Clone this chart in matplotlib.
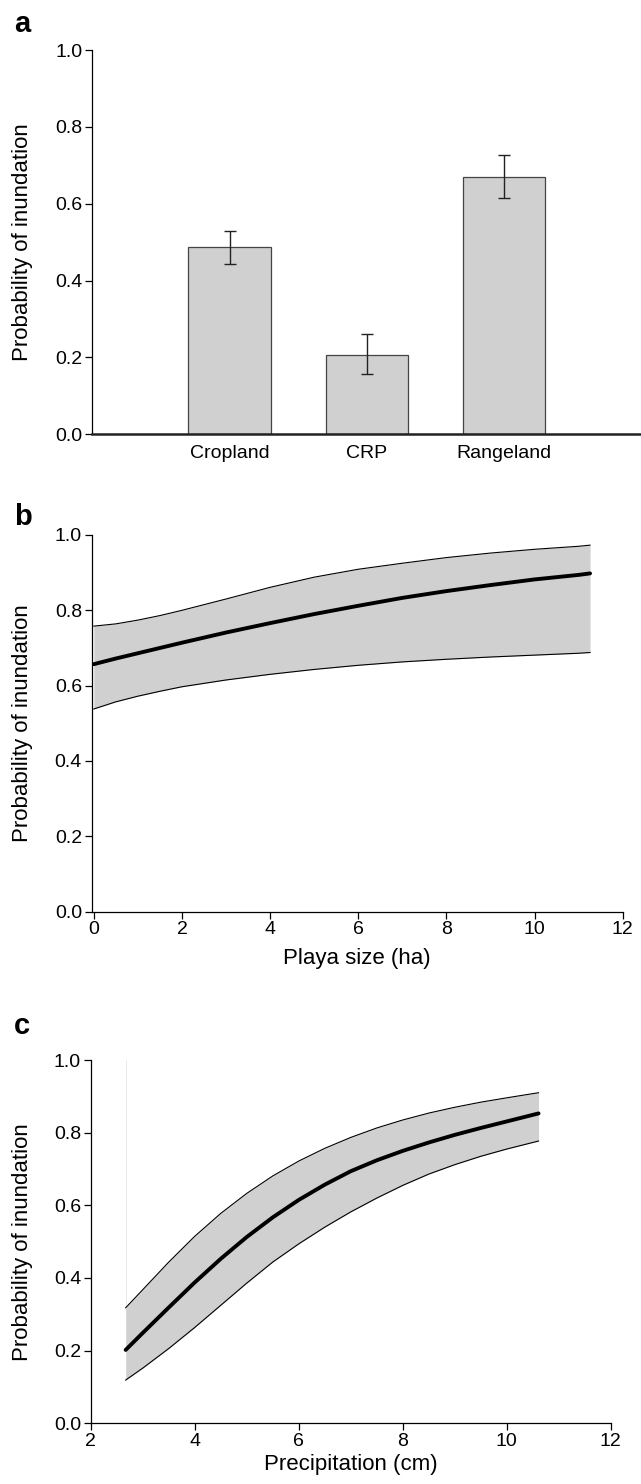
import numpy as np
import matplotlib.pyplot as plt
import matplotlib.transforms as mtransforms

plt.rcParams['font.family'] = ['Liberation Sans', 'DejaVu Sans']

# panel a: probability by land use
land_use = ['Cropland', 'CRP', 'Rangeland']
prob_a = [0.486, 0.207, 0.670]
err_lo_a = [0.442, 0.156, 0.614]
err_hi_a = [0.530, 0.260, 0.726]

# panel b: playa size
size_x = [0, 0.5, 1, 1.5, 2, 3, 4, 5, 6, 7, 8, 9, 10, 11, 11.26]
size_mean = [0.657, 0.672, 0.686, 0.700, 0.714, 0.741, 0.766, 0.790, 0.812, 0.833, 0.851,
             0.867, 0.882, 0.894, 0.898]
size_upper = [0.758, 0.764, 0.774, 0.786, 0.800, 0.830, 0.861, 0.888, 0.909, 0.925, 0.940,
              0.952, 0.962, 0.970, 0.973]
size_lower = [0.538, 0.557, 0.572, 0.585, 0.597, 0.615, 0.630, 0.643, 0.654, 0.663, 0.670,
              0.676, 0.681, 0.686, 0.688]

# panel c: precipitation
precip_x = [2.67, 3.0, 3.5, 4.0, 4.5, 5.0, 5.5, 6.0, 6.5, 7.0, 7.5, 8.0, 8.5, 9.0, 9.5, 10.0, 10.61]
precip_mean = [0.202, 0.249, 0.319, 0.388, 0.453, 0.513, 0.567, 0.615, 0.657, 0.694, 0.724,
               0.750, 0.773, 0.794, 0.813, 0.831, 0.853]
precip_upper = [0.318, 0.368, 0.444, 0.515, 0.578, 0.633, 0.681, 0.722, 0.757, 0.787, 0.813,
                0.835, 0.854, 0.870, 0.884, 0.896, 0.910]
precip_lower = [0.119, 0.152, 0.206, 0.264, 0.325, 0.386, 0.444, 0.494, 0.540, 0.582, 0.620,
                0.655, 0.686, 0.712, 0.735, 0.755, 0.777]

TICK_FS = 14
LABEL_FS = 16
yticks = [0.0, 0.2, 0.4, 0.6, 0.8, 1.0]

fig = plt.figure(figsize=(6.41, 14.84), dpi=100)


def style(ax):
    ax.spines['top'].set_visible(False)
    ax.spines['right'].set_visible(False)
    ax.spines['left'].set_linewidth(0.9)
    ax.spines['bottom'].set_linewidth(0.9)
    ax.set_ylim(0, 1.0)
    ax.set_yticks(yticks)
    ax.set_yticklabels(['%.1f' % v for v in yticks])
    ax.tick_params(direction='out', length=5, width=0.9, labelsize=TICK_FS, pad=2)
    ax.set_ylabel('Probability of inundation', fontsize=LABEL_FS)
    trans = mtransforms.blended_transform_factory(fig.transFigure, ax.transAxes)
    ax.yaxis.set_label_coords(0.051, 0.5, transform=trans)


def band(ax, x, mean, lo, hi):
    ax.fill_between(x, lo, hi, color='#d0d0d0', linewidth=0)
    ax.plot(x, hi, color='black', linewidth=0.8)
    ax.plot(x, lo, color='black', linewidth=0.8)
    ax.plot(x, mean, color='black', linewidth=2.8, solid_capstyle='round',
            solid_joinstyle='round')


# ---- panel a
ax1 = fig.add_axes([0.1441, 0.7074, 0.8559, 0.2589])
style(ax1)
pos = np.arange(1, len(land_use) + 1)
yerr = [np.array(prob_a) - np.array(err_lo_a), np.array(err_hi_a) - np.array(prob_a)]
ax1.bar(pos, prob_a, width=0.6, color='#d0d0d0', edgecolor='#444444', linewidth=0.9)
ax1.errorbar(pos, prob_a, yerr=yerr, fmt='none', ecolor='#222222', elinewidth=1.0,
             capsize=4, capthick=1.0)
ax1.set_xlim(0, 4)
ax1.set_xticks(pos)
ax1.set_xticklabels(land_use, fontsize=TICK_FS)
ax1.tick_params(axis='x', length=0, pad=8)
ax1.spines['bottom'].set_linewidth(1.8)
ax1.spines['bottom'].set_color('#222222')

# ---- panel b
ax2 = fig.add_axes([0.1429, 0.3857, 0.8285, 0.2538])
style(ax2)
band(ax2, size_x, size_mean, size_lower, size_upper)
ax2.set_xlim(-0.05, 12)
ax2.set_xticks(range(0, 13, 2))
ax2.set_xlabel('Playa size (ha)', fontsize=LABEL_FS, labelpad=7)

# ---- panel c
ax3 = fig.add_axes([0.1417, 0.0409, 0.8112, 0.2448])
style(ax3)
ax3.plot([precip_x[0], precip_x[0]], [precip_upper[0], 1.0], color='#e8e8e8', linewidth=0.6)
band(ax3, precip_x, precip_mean, precip_lower, precip_upper)
ax3.set_xlim(2, 12)
ax3.set_xticks(range(2, 13, 2))
ax3.set_xlabel('Precipitation (cm)', fontsize=LABEL_FS, labelpad=3)

# panel letters
fig.text(0.022, 0.9782, 'a', fontsize=21, fontweight='bold', va='baseline')
fig.text(0.022, 0.6462, 'b', fontsize=21, fontweight='bold', va='baseline')
fig.text(0.022, 0.3030, 'c', fontsize=21, fontweight='bold', va='baseline')

fig.savefig('out.png', dpi=100)
